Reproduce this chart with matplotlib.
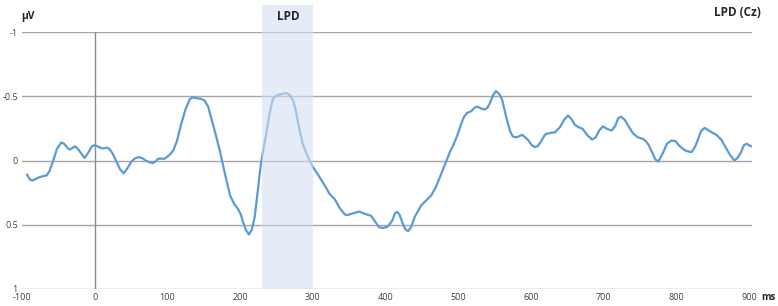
import matplotlib
matplotlib.use('Agg')
import matplotlib.pyplot as plt

# ERP waveform at Cz (ms, microvolts; negative plotted up)
time_ms = [-93, -89, -85, -80, -76, -70, -66, -62, -57, -52, -46, -42, -37, -34, -30, -27,
           -23, -18, -14, -9, -4, 0, 4, 9, 13, 17, 21, 25, 30, 35, 40, 45, 50, 55, 60, 65,
           70, 75, 80, 84, 87, 92, 96, 100, 104, 108, 113, 119, 125, 131, 135, 140, 146, 151,
           156, 160, 166, 172, 179, 186, 192, 197, 201, 204, 208, 212, 216, 220, 224, 228,
           232, 236, 240, 245, 250, 254, 259, 264, 268, 273, 277, 280, 286, 293, 300, 306,
           312, 318, 323, 330, 337, 344, 348, 353, 359, 364, 369, 374, 380, 385, 391, 397,
           403, 409, 413, 416, 419, 423, 427, 431, 435, 440, 445, 449, 456, 463, 469, 474,
           479, 484, 488, 493, 499, 504, 508, 512, 518, 522, 526, 531, 536, 540, 543, 548,
           552, 556, 560, 566, 571, 575, 580, 584, 588, 592, 596, 601, 605, 609, 614, 618,
           621, 627, 633, 640, 646, 651, 656, 660, 665, 671, 677, 684, 689, 694, 699, 705,
           711, 716, 720, 724, 729, 735, 740, 747, 754, 758, 762, 767, 771, 775, 778, 782,
           787, 793, 799, 803, 807, 813, 821, 826, 830, 834, 839, 844, 850, 855, 862, 868,
           874, 880, 884, 889, 893, 897, 901, 904]
amp_uv = [0.11, 0.15, 0.155, 0.14, 0.13, 0.12, 0.117, 0.08, 0.0, -0.09, -0.14, -0.13, -0.095,
          -0.085, -0.10, -0.11, -0.09, -0.05, -0.02, -0.06, -0.11, -0.12, -0.11, -0.096, -0.095,
          -0.10, -0.085, -0.05, 0.01, 0.07, 0.10, 0.06, 0.013, -0.015, -0.026, -0.02, 0.0,
          0.013, 0.02, 0.005, -0.013, -0.015, -0.013, -0.03, -0.05, -0.078, -0.15, -0.285,
          -0.40, -0.48, -0.49, -0.485, -0.48, -0.467, -0.42, -0.337, -0.21, -0.078, 0.10,
          0.27, 0.34, 0.376, 0.42, 0.48, 0.54, 0.576, 0.54, 0.44, 0.25, 0.05, -0.09, -0.21,
          -0.35, -0.48, -0.505, -0.514, -0.52, -0.524, -0.51, -0.467, -0.38, -0.285, -0.13,
          -0.03, 0.05, 0.10, 0.155, 0.21, 0.26, 0.30, 0.37, 0.42, 0.425, 0.415, 0.405, 0.397,
          0.41, 0.42, 0.43, 0.47, 0.52, 0.525, 0.514, 0.47, 0.41, 0.40, 0.42, 0.48, 0.535,
          0.55, 0.52, 0.44, 0.39, 0.35, 0.31, 0.27, 0.21, 0.14, 0.07, 0.0, -0.06, -0.117,
          -0.20, -0.285, -0.34, -0.37, -0.384, -0.41, -0.42, -0.405, -0.397, -0.41, -0.44,
          -0.51, -0.54, -0.52, -0.48, -0.337, -0.233, -0.187, -0.18, -0.19, -0.2, -0.18,
          -0.16, -0.12, -0.105, -0.11, -0.15, -0.19, -0.207, -0.215, -0.22, -0.26, -0.32,
          -0.35, -0.32, -0.28, -0.26, -0.247, -0.20, -0.163, -0.18, -0.235, -0.265, -0.245,
          -0.233, -0.27, -0.33, -0.34, -0.317, -0.26, -0.213, -0.18, -0.168, -0.15, -0.12,
          -0.06, -0.01, 0.008, -0.02, -0.065, -0.13, -0.156, -0.15, -0.12, -0.10, -0.075,
          -0.065, -0.11, -0.17, -0.23, -0.254, -0.235, -0.215, -0.2, -0.16, -0.10, -0.04,
          0.0, -0.02, -0.065, -0.12, -0.13, -0.115, -0.11]

x_ticks = [-100, 0, 100, 200, 300, 400, 500, 600, 700, 800, 900]
y_ticks = [-1, -0.5, 0, 0.5, 1]
y_labels = ['-1', '-0.5', '0', '0.5', '1']
window = (230, 300)

plt.rcParams['font.family'] = ['Open Sans', 'DejaVu Sans']
plt.rcParams['axes.unicode_minus'] = False

fig = plt.figure(figsize=(7.78, 3.06), dpi=100)
ax = fig.add_axes([22 / 778, 1 - 289 / 306, (752 - 22) / 778, (289 - 32) / 306])

grid_col = '#A6A6A6'
for yv in y_ticks:
    ax.axhline(yv, color=grid_col, lw=1.0, zorder=1)
ax.axvline(0, color='#8C8C8C', lw=1.0, zorder=1)

ax.plot(time_ms, amp_uv, color='#5B9BD5', lw=1.6, zorder=3)

# LPD time window, drawn over the waveform with transparency
ax.axvspan(window[0], window[1], ymin=0, ymax=(289 - 5) / (289 - 32),
           color='#D4DEF2', alpha=0.6, lw=0, zorder=4, clip_on=False)

ax.set_xlim(-100, 904)
ax.set_ylim(1, -1)
ax.set_xticks(x_ticks)
ax.set_yticks(y_ticks)
ax.set_yticklabels(y_labels)
ax.tick_params(length=0, labelsize=6.5, colors='#404040')
ax.tick_params(axis='x', pad=3)
ax.tick_params(axis='y', pad=3)
for s in ax.spines.values():
    s.set_visible(False)

fig.text(28 / 778, 1 - 17 / 306, 'µV', fontsize=7.5, fontweight='bold', ha='center', va='center', color='#262626')
fig.text(288 / 778, 1 - 17 / 306, 'LPD', fontsize=8.5, fontweight='bold', ha='center', va='center', color='#262626')
fig.text(737 / 778, 1 - 12 / 306, 'LPD (Cz)', fontsize=8.5, fontweight='bold', ha='center', va='center', color='#262626')
fig.text(768 / 778, 1 - 297 / 306, 'ms', fontsize=7, fontweight='bold', ha='center', va='center', color='#262626')

fig.savefig('out.png', dpi=100)
